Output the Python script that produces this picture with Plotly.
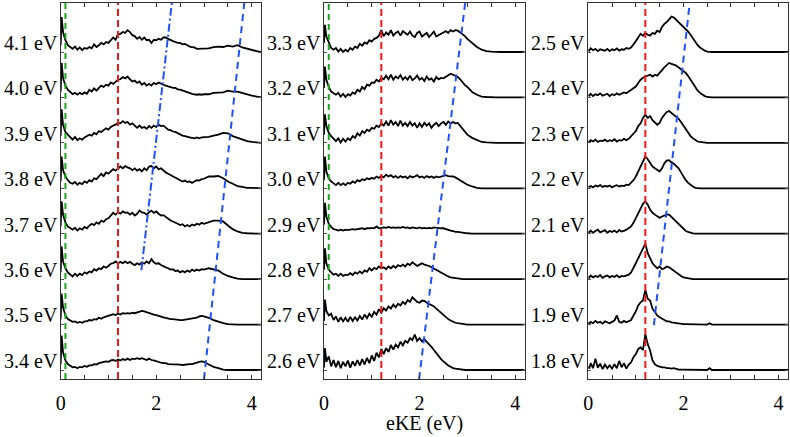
import plotly.graph_objects as go

# ---------------- data ----------------
# common eKE sampling grid (eV)
EKE = [0.0, 0.02] + [round(0.05 * i, 2) for i in range(1, 61)] + [round(3.0 + 0.1 * i, 1) for i in range(1, 13)]

# Panel 1 (photon energies 4.1 ... 3.4 eV); intensities in % of trace spacing
I_4_1 = [15, 77,
         44, 26, 15, 11, 7, 12, 5, 10, 4, 9,
         7, 11, 8, 17, 11, 15, 20, 17, 22, 20,
         27, 32, 27, 39, 40, 44, 42, 48, 44, 37,
         35, 29, 33, 27, 32, 26, 27, 20, 27, 26,
         29, 27, 32, 32, 29, 26, 24, 22, 20, 20,
         17, 18, 15, 12, 11, 10, 7, 7, 7, 7,
         8, 11, 12, 11, 14, 12, 15, 10, 7, 4, 2, 0]
I_4_0 = [13, 76,
         43, 26, 17, 11, 7, 10, 6, 10, 7, 11,
         8, 17, 13, 20, 15, 21, 26, 23, 28, 26,
         33, 30, 35, 39, 40, 45, 42, 46, 40, 35,
         37, 32, 35, 28, 32, 26, 30, 26, 32, 29,
         33, 30, 28, 26, 24, 23, 21, 21, 18, 17,
         15, 13, 11, 10, 8, 7, 6, 7, 6, 7,
         7, 10, 11, 11, 15, 13, 13, 10, 6, 4, 2, 0]
I_3_9 = [15, 74,
         40, 24, 18, 13, 7, 13, 6, 10, 7, 12,
         15, 18, 16, 22, 19, 26, 24, 29, 32, 29,
         35, 38, 40, 44, 43, 48, 44, 46, 40, 43,
         37, 33, 38, 33, 35, 31, 37, 33, 38, 35,
         40, 37, 38, 33, 29, 28, 25, 24, 21, 18,
         16, 15, 13, 12, 11, 10, 12, 10, 12, 12,
         13, 16, 18, 22, 21, 15, 11, 7, 4, 2, 1, 0]
I_3_8 = [15, 70,
         40, 26, 18, 12, 10, 14, 8, 12, 9, 15,
         12, 18, 15, 22, 20, 26, 32, 27, 35, 32,
         37, 42, 39, 44, 48, 44, 49, 46, 44, 40,
         44, 39, 42, 37, 44, 40, 48, 49, 44, 48,
         42, 44, 39, 35, 32, 29, 26, 24, 20, 18,
         15, 17, 14, 15, 12, 15, 18, 17, 20, 21,
         26, 26, 27, 22, 15, 10, 5, 3, 1, 1, 0, 0]
I_3_7 = [16, 71,
         42, 25, 16, 12, 9, 13, 7, 12, 9, 15,
         12, 18, 22, 19, 25, 22, 29, 26, 32, 34,
         40, 46, 42, 47, 44, 49, 46, 47, 42, 46,
         40, 44, 51, 47, 46, 42, 47, 51, 46, 49,
         44, 40, 41, 37, 32, 29, 27, 25, 22, 19,
         21, 16, 19, 16, 20, 18, 22, 20, 24, 22,
         25, 29, 29, 27, 18, 10, 5, 2, 1, 0, 0, 0]
I_3_6 = [15, 72,
         39, 24, 15, 10, 6, 12, 7, 12, 9, 15,
         12, 17, 15, 22, 19, 24, 22, 28, 25, 29,
         34, 35, 39, 35, 38, 35, 39, 35, 38, 34,
         31, 35, 32, 37, 34, 39, 35, 44, 37, 34,
         35, 31, 28, 26, 24, 21, 22, 18, 19, 15,
         18, 15, 19, 16, 21, 18, 21, 19, 22, 21,
         24, 22, 19, 12, 7, 4, 1, 0, 0, 0, 0, 0]
I_3_5 = [12, 68,
         38, 20, 12, 9, 6, 7, 4, 6, 4, 7,
         7, 10, 9, 12, 11, 15, 13, 16, 18, 19,
         21, 23, 21, 24, 22, 25, 24, 25, 24, 26,
         25, 27, 28, 30, 29, 27, 26, 24, 22, 21,
         19, 18, 16, 15, 13, 12, 12, 11, 10, 10,
         10, 11, 12, 12, 13, 15, 15, 18, 19, 18,
         15, 10, 6, 3, 1, 0, 0, 0, 0, 0, 0, 0]
I_3_4 = [13, 76,
         39, 21, 13, 9, 6, 7, 4, 7, 6, 9,
         7, 10, 10, 13, 12, 15, 16, 18, 19, 18,
         21, 22, 20, 23, 21, 24, 22, 25, 22, 25,
         24, 26, 24, 26, 24, 22, 25, 22, 21, 19,
         18, 16, 15, 15, 13, 13, 12, 12, 12, 12,
         11, 12, 12, 13, 13, 15, 16, 18, 19, 18,
         12, 7, 4, 1, 0, 0, 0, 0, 0, 0, 0, 0]

# Panel 2 (3.3 ... 2.6 eV)
I_3_3 = [20, 60,
         34, 20, 9, 5, 9, 1, 7, 0, 5, 1,
         9, 5, 12, 9, 18, 14, 21, 18, 26, 23,
         29, 31, 36, 48, 35, 43, 38, 48, 36, 42,
         45, 36, 46, 42, 38, 45, 36, 33, 42, 45,
         34, 38, 42, 33, 39, 45, 34, 38, 40, 43,
         46, 42, 48, 45, 48, 47, 43, 40, 35, 29,
         20, 11, 5, 2, 1, 0, 0, 0, 0, 0, 0, 0]
I_3_2 = [21, 68,
         39, 23, 13, 10, 6, 10, 2, 8, 1, 7,
         4, 11, 8, 17, 13, 23, 18, 28, 26, 33,
         32, 39, 35, 43, 40, 48, 40, 50, 39, 46,
         42, 49, 39, 45, 39, 48, 38, 42, 48, 39,
         43, 36, 46, 39, 42, 35, 45, 40, 43, 42,
         46, 48, 52, 50, 48, 45, 40, 33, 27, 23,
         12, 6, 2, 1, 0, 0, 0, 0, 0, 0, 0, 0]
I_3_1 = [18, 63,
         37, 22, 15, 9, 4, 10, 1, 9, 3, 10,
         6, 15, 11, 21, 16, 26, 22, 29, 26, 33,
         31, 38, 35, 43, 38, 47, 38, 50, 40, 46,
         37, 49, 38, 44, 37, 46, 38, 43, 33, 43,
         35, 44, 38, 43, 33, 40, 44, 37, 43, 46,
         40, 47, 43, 46, 43, 44, 38, 31, 24, 18,
         11, 6, 2, 1, 0, 0, 0, 0, 0, 0, 0, 0]
I_3_0 = [18, 70,
         37, 22, 15, 11, 7, 12, 7, 11, 7, 12,
         10, 15, 12, 18, 15, 20, 18, 22, 20, 23,
         21, 26, 23, 27, 24, 30, 26, 29, 24, 27,
         23, 27, 24, 26, 22, 27, 24, 26, 29, 24,
         26, 23, 27, 24, 26, 23, 26, 24, 26, 27,
         29, 27, 27, 26, 24, 21, 18, 14, 11, 8,
         4, 1, 0, 0, 0, 0, 0, 0, 0, 0, 0, 0]
I_2_9 = [20, 68,
         38, 22, 15, 10, 9, 7, 9, 7, 9, 8,
         9, 10, 9, 10, 10, 12, 10, 12, 12, 13,
         12, 16, 12, 13, 14, 13, 15, 13, 14, 13,
         14, 13, 15, 13, 14, 12, 14, 13, 12, 14,
         12, 13, 12, 13, 12, 14, 13, 12, 12, 12,
         10, 9, 7, 6, 4, 4, 3, 2, 1, 1,
         0, 0, 0, 0, 0, 0, 0, 0, 0, 0, 0, 0]
I_2_8 = [21, 68,
         35, 21, 15, 10, 12, 7, 12, 7, 10, 9,
         13, 9, 15, 12, 17, 13, 19, 16, 24, 19,
         25, 22, 28, 24, 26, 22, 28, 24, 29, 25,
         31, 28, 32, 28, 34, 31, 37, 32, 29, 32,
         35, 32, 31, 29, 26, 23, 20, 17, 14, 11,
         8, 6, 4, 3, 2, 1, 1, 0, 0, 0,
         0, 0, 0, 0, 0, 0, 0, 0, 0, 0, 0, 0]
I_2_7 = [8, 55,
         30, 20, 24, 10, 18, 6, 16, 7, 15, 6,
         17, 8, 16, 9, 19, 11, 22, 14, 24, 17,
         28, 22, 34, 26, 36, 31, 40, 35, 44, 38,
         46, 42, 50, 45, 54, 50, 60, 55, 50, 48,
         53, 52, 48, 45, 43, 40, 35, 30, 25, 20,
         16, 12, 9, 6, 4, 3, 2, 1, 0, 0,
         0, 0, 0, 0, 0, 0, 0, 0, 0, 0, 0, 0]
I_2_6 = [5, 48,
         18, 30, 8, 22, 6, 20, 4, 18, 8, 21,
         5, 19, 9, 22, 10, 24, 12, 27, 15, 32,
         20, 38, 28, 46, 35, 48, 40, 55, 45, 56,
         50, 62, 54, 64, 60, 70, 66, 78, 64, 70,
         63, 68, 62, 57, 51, 44, 37, 29, 24, 19,
         14, 10, 7, 4, 3, 2, 1, 0, 0, 0,
         0, 0, 0, 0, 0, 0, 0, 0, 0, 0, 0, 0]

# Panel 3 (2.5 ... 1.8 eV)
I_2_5 = [6, 3,
         8, 4, 7, 2, 6, 5, 3, 7, 2, 6,
         4, 8, 3, 6, 5, 9, 7, 10, 16, 24,
         32, 40, 36, 42, 38, 36, 42, 40, 47, 44,
         55, 62, 66, 72, 78, 76, 71, 66, 60, 56,
         51, 45, 38, 30, 22, 15, 10, 6, 3, 1,
         0, 0, 0, 0, 0, 0, 0, 0, 0, 0,
         0, 0, 0, 0, 0, 0, 0, 0, 0, 0, 0, 0]
I_2_4 = [6, 4,
         8, 3, 7, 5, 9, 4, 6, 8, 3, 7,
         5, 9, 6, 8, 11, 9, 13, 17, 20, 24,
         32, 39, 43, 47, 48, 50, 46, 50, 48, 55,
         60, 66, 72, 76, 74, 72, 70, 66, 62, 58,
         54, 47, 40, 31, 23, 15, 10, 6, 3, 1,
         0, 0, 0, 0, 0, 0, 0, 0, 0, 0,
         0, 0, 0, 0, 0, 0, 0, 0, 0, 0, 0, 0]
I_2_3 = [4, 2,
         6, 3, 7, 2, 5, 4, 7, 3, 6, 4,
         8, 3, 6, 5, 9, 6, 9, 15, 22, 26,
         37, 43, 55, 62, 55, 59, 50, 46, 40, 44,
         55, 62, 68, 70, 66, 62, 59, 53, 46, 38,
         30, 22, 15, 10, 6, 3, 2, 1, 0, 0,
         0, 0, 0, 0, 0, 0, 0, 0, 0, 0,
         0, 0, 0, 0, 0, 0, 0, 0, 0, 0, 0, 0]
I_2_2 = [4, 3,
         5, 2, 6, 4, 7, 3, 5, 4, 6, 2,
         5, 7, 4, 6, 5, 8, 7, 12, 18, 26,
         37, 48, 59, 70, 64, 55, 48, 44, 40, 37,
         44, 55, 61, 62, 57, 54, 49, 44, 35, 26,
         18, 12, 7, 4, 1, 0, 0, 0, 0, 0,
         0, 0, 0, 0, 0, 0, 0, 0, 0, 0,
         0, 0, 0, 0, 0, 0, 0, 0, 0, 0, 0, 0]
I_2_1 = [5, 3,
         7, 2, 6, 9, 3, 5, 8, 2, 6, 4,
         7, 3, 8, 5, 6, 9, 12, 16, 24, 35,
         46, 57, 66, 71, 64, 53, 46, 42, 38, 35,
         38, 40, 42, 42, 37, 31, 25, 20, 15, 10,
         6, 4, 2, 1, 0, 0, 0, 0, 0, 0,
         0, 0, 0, 0, 0, 0, 0, 0, 0, 0,
         0, 0, 0, 0, 0, 0, 0, 0, 0, 0, 0, 0]
I_2_0 = [6, 3,
         8, 4, 7, 5, 9, 3, 6, 8, 4, 7,
         5, 9, 4, 7, 6, 8, 10, 15, 24, 35,
         46, 57, 65, 78, 57, 46, 35, 29, 24, 28,
         22, 24, 28, 26, 22, 17, 13, 10, 7, 4,
         3, 1, 0, 0, 0, 0, 0, 0, 0, 0,
         0, 0, 0, 0, 0, 0, 0, 0, 0, 0,
         0, 0, 0, 0, 0, 0, 0, 0, 0, 0, 0, 0]
I_1_9 = [5, 2,
         6, 3, 8, 4, 6, 2, 7, 5, 3, 6,
         9, 20, 6, 4, 8, 5, 7, 10, 20, 29,
         42, 49, 53, 76, 57, 53, 35, 27, 20, 16,
         12, 10, 7, 7, 5, 4, 4, 3, 2, 1,
         1, 1, 0, 0, 0, 0, 0, 0, 0, 0,
         3, 0, 0, 0, 0, 0, 0, 0, 0, 0,
         0, 0, 0, 0, 0, 0, 0, 0, 0, 0, 0, 0]
I_1_8 = [8, 3,
         15, 4, 25, 5, 14, 2, 12, 4, 10, 3,
         13, 4, 20, 6, 15, 3, 12, 17, 28, 35,
         46, 50, 44, 79, 57, 43, 21, 13, 9, 7,
         6, 6, 4, 4, 3, 4, 2, 1, 1, 1,
         0, 0, 0, 0, 0, 0, 0, 0, 0, 0,
         4, 0, 0, 0, 0, 0, 0, 0, 0, 0,
         0, 0, 0, 0, 0, 0, 0, 0, 0, 0, 0, 0]

PANEL_LABELS = [
    ["4.1 eV", "4.0 eV", "3.9 eV", "3.8 eV", "3.7 eV", "3.6 eV", "3.5 eV", "3.4 eV"],
    ["3.3 eV", "3.2 eV", "3.1 eV", "3.0 eV", "2.9 eV", "2.8 eV", "2.7 eV", "2.6 eV"],
    ["2.5 eV", "2.4 eV", "2.3 eV", "2.2 eV", "2.1 eV", "2.0 eV", "1.9 eV", "1.8 eV"],
]
PANEL_SERIES = [
    [I_4_1, I_4_0, I_3_9, I_3_8, I_3_7, I_3_6, I_3_5, I_3_4],
    [I_3_3, I_3_2, I_3_1, I_3_0, I_2_9, I_2_8, I_2_7, I_2_6],
    [I_2_5, I_2_4, I_2_3, I_2_2, I_2_1, I_2_0, I_1_9, I_1_8],
]

# guide lines (eKE in eV, vertical position in trace-offset units)
GREEN_EKE = 0.1
RED_EKE = 1.2
P1_BLUE_DASHDOT_X = [1.69, 2.35]
P1_BLUE_DASHDOT_Y = [2.2, 8.3]
P1_BLUE_DASH_X = [3.0, 3.865]
P1_BLUE_DASH_Y = [-0.2, 8.3]
P2_GREEN_Y = [1.76, 8.3]
P2_BLUE_DASH_X = [1.99, 2.98]
P2_BLUE_DASH_Y = [-0.2, 8.3]
P3_BLUE_DASH_X = [1.38, 2.156]
P3_BLUE_DASH_Y = [0.99, 8.3]

XTICKS = [0, 0.5, 1, 1.5, 2, 2.5, 3, 3.5, 4]
XTICKTEXT = ["0", "", "", "", "2", "", "", "", "4"]

for s in sum(PANEL_SERIES, []):
    assert len(s) == len(EKE), len(s)

# ---------------- figure ----------------
W, H = 790, 437
FONT = "Liberation Serif"
FS = 20
RED = "#f01818"
GREEN = "#1aa51a"
BLUE = "#1f4fff"

X_DOM = [[56 / W, 258 / W], [321 / W, 523 / W], [587 / W, 788 / W]]
Y_DOM = [1 - 379 / H, 1 - 3 / H]

fig = go.Figure()
axis_ids = ["", "2", "3"]

for p in range(3):
    xa, ya = "x" + axis_ids[p], "y" + axis_ids[p]
    n = len(PANEL_SERIES[p])
    for i, (lab, vals) in enumerate(zip(PANEL_LABELS[p], PANEL_SERIES[p])):
        k = n - 1 - i
        fig.add_trace(go.Scatter(
            x=EKE, y=[v / 100.0 + k for v in vals], mode="lines",
            line=dict(color="black", width=1.8), xaxis=xa, yaxis=ya,
            showlegend=False, hoverinfo="skip"))
        fig.add_annotation(
            text=lab, xref=xa + " domain", yref=ya, x=0, y=k + 0.2,
            xanchor="right", yanchor="middle", xshift=-1, showarrow=False,
            font=dict(family=FONT, size=FS, color="black"))

    # vertical red line (all panels)
    fig.add_shape(type="line", xref=xa, yref=ya + " domain", x0=RED_EKE, x1=RED_EKE,
                  y0=0, y1=1, line=dict(color=RED, width=2, dash="7px,4px"))

# green line panel 1 (full) and panel 2 (partial)
fig.add_shape(type="line", xref="x", yref="y domain", x0=GREEN_EKE, x1=GREEN_EKE,
              y0=0, y1=1, line=dict(color=GREEN, width=2, dash="6px,4px"))
fig.add_trace(go.Scatter(x=[GREEN_EKE, GREEN_EKE], y=P2_GREEN_Y, mode="lines",
                         line=dict(color=GREEN, width=2, dash="6px,4px"),
                         xaxis="x2", yaxis="y2", showlegend=False, hoverinfo="skip"))

# blue guide lines
fig.add_trace(go.Scatter(x=P1_BLUE_DASHDOT_X, y=P1_BLUE_DASHDOT_Y, mode="lines",
                         line=dict(color=BLUE, width=2, dash="8px,3px,2px,3px"),
                         xaxis="x", yaxis="y", showlegend=False, hoverinfo="skip"))
fig.add_trace(go.Scatter(x=P1_BLUE_DASH_X, y=P1_BLUE_DASH_Y, mode="lines",
                         line=dict(color=BLUE, width=2, dash="7px,5px"),
                         xaxis="x", yaxis="y", showlegend=False, hoverinfo="skip"))
fig.add_trace(go.Scatter(x=P2_BLUE_DASH_X, y=P2_BLUE_DASH_Y, mode="lines",
                         line=dict(color=BLUE, width=2, dash="7px,5px"),
                         xaxis="x2", yaxis="y2", showlegend=False, hoverinfo="skip"))
fig.add_trace(go.Scatter(x=P3_BLUE_DASH_X, y=P3_BLUE_DASH_Y, mode="lines",
                         line=dict(color=BLUE, width=2, dash="7px,5px"),
                         xaxis="x3", yaxis="y3", showlegend=False, hoverinfo="skip"))

axis_common_x = dict(range=[0, 4.2], tickmode="array", tickvals=XTICKS, ticktext=XTICKTEXT,
                     ticks="inside", ticklen=4, tickwidth=1, tickcolor="#333",
                     showline=True, linecolor="#333", linewidth=1, mirror="ticks",
                     showgrid=False, zeroline=False, ticklabelstandoff=6,
                     tickfont=dict(family=FONT, size=FS, color="black"))
axis_common_y = dict(range=[-0.198, 8.079], tickmode="array", tickvals=list(range(8)),
                     ticks="inside", ticklen=3, tickwidth=1, tickcolor="#555",
                     showticklabels=False, showline=True, linecolor="#333", linewidth=1,
                     mirror="ticks", showgrid=False, zeroline=False)

layout = dict(width=W, height=H, margin=dict(l=0, r=0, t=0, b=0),
              paper_bgcolor="white", plot_bgcolor="white", showlegend=False)
for p in range(3):
    sfx = axis_ids[p]
    layout["xaxis" + sfx] = dict(axis_common_x, domain=X_DOM[p], anchor="y" + sfx)
    layout["yaxis" + sfx] = dict(axis_common_y, domain=Y_DOM, anchor="x" + sfx)
fig.update_layout(**layout)

fig.add_annotation(text="eKE (eV)", xref="x2 domain", yref="paper", x=0.5, y=1 - 423 / H,
                   xanchor="center", yanchor="middle", showarrow=False,
                   font=dict(family=FONT, size=FS, color="black"))

fig.write_html("out.html", config={"displayModeBar": False},
               post_script="document.body.style.margin='0';document.body.style.overflow='hidden';")
